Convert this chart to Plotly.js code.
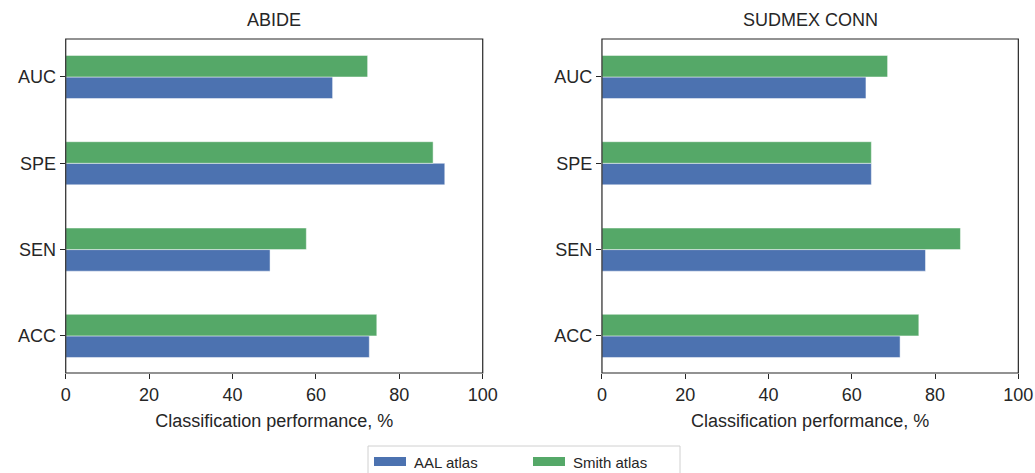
<!DOCTYPE html>
<html>
<head>
<meta charset="utf-8">
<script src="https://cdn.plot.ly/plotly-3.0.1.min.js"></script>
<style>html,body{margin:0;padding:0;background:#fff;overflow:hidden;}#chart{width:1035px;height:473px;}</style>
</head>
<body>
<div id="chart"></div>
<script>
const categories = ["ACC", "SEN", "SPE", "AUC"];
const abideAAL = [72.8, 49.0, 90.9, 64.0];
const abideSmith = [74.6, 57.7, 88.1, 72.4];
const sudmexAAL = [71.6, 77.7, 64.7, 63.4];
const sudmexSmith = [76.1, 86.1, 64.7, 68.6];
const xTicks = [0, 20, 40, 60, 80, 100];
const panelTitles = ["ABIDE", "SUDMEX CONN"];
const seriesNames = ["AAL atlas", "Smith atlas"];

const blue = "#4C72B0", green = "#55A868";
const fam = "Liberation Sans, Arial, Helvetica, sans-serif";
const font = {family: fam, size: 18, color: "#262626"};
const legFont = {family: fam, size: 15, color: "#262626"};

function bar(x, name, color, xa, ya) {
  return {type: "bar", orientation: "h", x: x, y: categories, name: name,
    marker: {color: color, line: {color: "rgba(255,255,255,0.6)", width: 0.8}},
    xaxis: xa, yaxis: ya, showlegend: false};
}

const data = [
  bar(abideAAL, seriesNames[0], blue, "x", "y"),
  bar(abideSmith, seriesNames[1], green, "x", "y"),
  bar(sudmexAAL, seriesNames[0], blue, "x2", "y2"),
  bar(sudmexSmith, seriesNames[1], green, "x2", "y2")
];

function xaxis(domain, anchor) {
  return {domain: domain, anchor: anchor, range: [0, 100], tickvals: xTicks, ticks: "outside",
    ticklen: 5, tickwidth: 1, tickcolor: "#262626", showline: false,
    showgrid: false, zeroline: false, tickfont: font, automargin: false,
    title: {text: "Classification performance, %", font: font, standoff: 10}};
}
function yaxis(anchor) {
  return {domain: [0.2114, 0.9175], anchor: anchor, type: "category", categoryorder: "array",
    categoryarray: categories, range: [-0.43, 3.44], ticks: "outside", ticklen: 5, tickwidth: 1,
    tickcolor: "#262626", showline: false,
    showgrid: false, zeroline: false, tickfont: font, automargin: false};
}

function frame(xr, yr) {
  return {type: "rect", xref: xr + " domain", yref: yr + " domain", x0: 0, x1: 1, y0: 0, y1: 1,
    line: {color: "#262626", width: 1.2}, fillcolor: "rgba(0,0,0,0)", layer: "above"};
}

// custom legend (wide swatches like the reference)
const legTop = 1 - 446/473, swTop = 1 - 457/473, swBot = 1 - 466/473;
const shapes = [
  frame("x", "y"), frame("x2", "y2"),
  {type: "rect", xref: "paper", yref: "paper", x0: 368/1035, x1: 680/1035, y0: -0.02, y1: legTop,
   line: {color: "#d0d0d0", width: 1}, fillcolor: "#fff", layer: "above"},
  {type: "rect", xref: "paper", yref: "paper", x0: 374/1035, x1: 406/1035, y0: swBot, y1: swTop,
   line: {width: 0}, fillcolor: blue, layer: "above"},
  {type: "rect", xref: "paper", yref: "paper", x0: 533/1035, x1: 565/1035, y0: swBot, y1: swTop,
   line: {width: 0}, fillcolor: green, layer: "above"}
];

const layout = {
  width: 1035, height: 473,
  margin: {l: 0, r: 0, t: 0, b: 0},
  paper_bgcolor: "#fff", plot_bgcolor: "#fff",
  font: font,
  showlegend: false,
  barmode: "group", bargap: 0.5, bargroupgap: 0,
  xaxis: xaxis([0.0635, 0.4664], "y"),
  yaxis: yaxis("x"),
  xaxis2: xaxis([0.5816, 0.9839], "y2"),
  yaxis2: yaxis("x2"),
  shapes: shapes,
  annotations: [
    {text: panelTitles[0], xref: "paper", yref: "paper", x: 0.265, y: 1 - 20/473, xanchor: "center", yanchor: "middle", showarrow: false, font: font},
    {text: panelTitles[1], xref: "paper", yref: "paper", x: 0.7828, y: 1 - 20/473, xanchor: "center", yanchor: "middle", showarrow: false, font: font},
    {text: seriesNames[0], xref: "paper", yref: "paper", x: 412/1035, y: 1 - 462/473, xanchor: "left", yanchor: "middle", showarrow: false, font: legFont},
    {text: seriesNames[1], xref: "paper", yref: "paper", x: 571/1035, y: 1 - 462/473, xanchor: "left", yanchor: "middle", showarrow: false, font: legFont}
  ]
};

Plotly.newPlot("chart", data, layout, {displayModeBar: false, staticPlot: true});
</script>
</body>
</html>
